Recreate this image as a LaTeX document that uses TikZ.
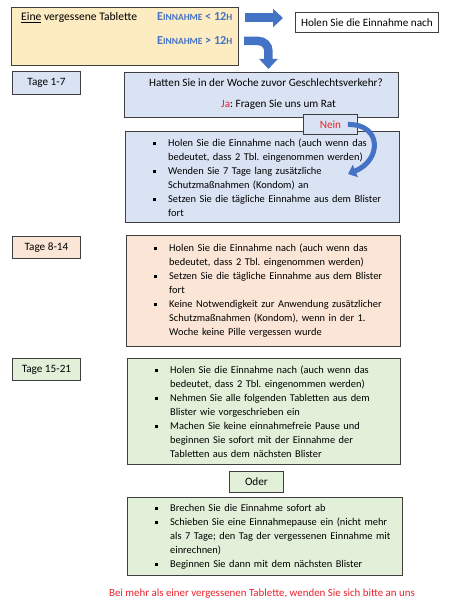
\documentclass[tikz,border=0pt]{standalone}
\usepackage{fontspec}
\setmainfont{Carlito}
\usetikzlibrary{arrows.meta}
\definecolor{ylw}{HTML}{FDEBC1}
\definecolor{bluefill}{HTML}{DAE3F3}
\definecolor{peach}{HTML}{FBE5D6}
\definecolor{greenfill}{HTML}{E2F0D9}
\definecolor{arrowblue}{HTML}{4472C4}
\definecolor{textblue}{HTML}{4472C4}
\definecolor{redtext}{HTML}{E8202A}
\definecolor{bordergray}{HTML}{3F3F3F}
\newcommand{\lstitem}[1]{\hangindent=15pt\hangafter=1\noindent\strut\makebox[15pt][l]{\rule[1.2pt]{3pt}{3pt}}#1\par}
\newcommand{\einn}{E{\fontsize{9.4}{9}\selectfont INNAHME}}
\begin{document}
\frenchspacing
\begin{tikzpicture}[x=1pt,y=-1pt,font=\fontsize{11.2}{14}\selectfont,
  box/.style={draw=bordergray,line width=0.9pt,inner sep=0pt,anchor=north west},
  plain/.style={inner sep=0pt},
  listtext/.style={inner sep=0pt,anchor=north west,text width=260pt,font=\fontsize{10.4}{14}\selectfont\frenchspacing},
  blockarrow/.style={draw=arrowblue,line width=9pt,-{Triangle[width=18pt,length=10pt]}},
  bluecaps/.style={inner sep=0pt,anchor=base west,text=textblue,font=\fontsize{12.2}{14}\selectfont\bfseries}]
\useasboundingbox (0,0) rectangle (450,604);

% top row
\node[box,fill=ylw,minimum width=227pt,minimum height=58pt] (top) at (11,7) {};
\node[plain,anchor=base west,font=\fontsize{11.6}{14}\selectfont] (eine) at (21,20.5) {\underline{Eine} vergessene Tablette};
\node[bluecaps] (lt) at (157,20.5) {\einn{} < 12{\fontsize{9.4}{9}\selectfont H}};
\node[bluecaps] (gt) at (157,44.5) {\einn{} > 12{\fontsize{9.4}{9}\selectfont H}};
\node[box,fill=white,minimum width=143pt,minimum height=20pt] (hol) at (295,12) {Holen Sie die Einnahme nach};

% Tage 1-7
\node[box,fill=bluefill,minimum width=68pt,minimum height=23pt] (t1) at (12,71) {Tage 1-7};
\node[box,fill=bluefill,minimum width=274pt,minimum height=45pt] (q) at (124,72) {};
\node[plain,anchor=base] (qt) at (266,86.5) {Hatten Sie in der Woche zuvor Geschlechtsverkehr?};
\node[plain,anchor=base west] (ja) at (221,107.5) {\textcolor{redtext}{Ja}: Fragen Sie uns um Rat};
\node[box,fill=bluefill,minimum width=274pt,minimum height=91pt] (b1) at (125,131) {};
\node[listtext] (b1t) at (153,136.5) {%
\lstitem{Holen Sie die Einnahme nach (auch wenn das\newline bedeutet, dass 2 Tbl. eingenommen werden)}
\lstitem{Wenden Sie 7 Tage lang zusätzliche\newline Schutzmaßnahmen (Kondom) an}
\lstitem{Setzen Sie die tägliche Einnahme aus dem Blister\newline fort}};
\node[box,fill=bluefill,minimum width=54pt,minimum height=20pt,text=redtext] (nein) at (303,114) {Nein};

% Tage 8-14
\node[box,fill=peach,minimum width=68pt,minimum height=22pt] (t2) at (12,236) {Tage 8-14};
\node[box,fill=peach,minimum width=274pt,minimum height=111pt] (b2) at (126,235) {};
\node[listtext] (b2t) at (154,241.5) {%
\lstitem{Holen Sie die Einnahme nach (auch wenn das\newline bedeutet, dass 2 Tbl. eingenommen werden)}
\lstitem{Setzen Sie die tägliche Einnahme aus dem Blister\newline fort}
\lstitem{Keine Notwendigkeit zur Anwendung zusätzlicher\newline Schutzmaßnahmen (Kondom), wenn in der 1.\newline Woche keine Pille vergessen wurde}};

% Tage 15-21
\node[box,fill=greenfill,minimum width=68pt,minimum height=22pt] (t3) at (12,358) {Tage 15-21};
\node[box,fill=greenfill,minimum width=273pt,minimum height=106pt] (b3) at (127,358) {};
\node[listtext] (b3t) at (155,363.5) {%
\lstitem{Holen Sie die Einnahme nach (auch wenn das\newline bedeutet, dass 2 Tbl. eingenommen werden)}
\lstitem{Nehmen Sie alle folgenden Tabletten aus dem\newline Blister wie vorgeschrieben ein}
\lstitem{Machen Sie keine einnahmefreie Pause und\newline beginnen Sie sofort mit der Einnahme der\newline Tabletten aus dem nächsten Blister}};

% Oder
\node[box,fill=greenfill,minimum width=54pt,minimum height=21pt] (oder) at (229,471) {Oder};
\node[box,fill=greenfill,minimum width=275pt,minimum height=78pt] (b4) at (127,497) {};
\node[listtext] (b4t) at (155,501.5) {%
\lstitem{Brechen Sie die Einnahme sofort ab}
\lstitem{Schieben Sie eine Einnahmepause ein (nicht mehr\newline als 7 Tage; den Tag der vergessenen Einnahme mit\newline einrechnen)}
\lstitem{Beginnen Sie dann mit dem nächsten Blister}};

% footer
\node[plain,anchor=base,text=redtext,font=\fontsize{10.9}{14}\selectfont] (foot) at (262,596.5) {Bei mehr als einer vergessenen Tablette, wenden Sie sich bitte an uns};

% arrows
\coordinate (r1) at (245,18);
\draw[blockarrow,shorten >=12pt] (r1) -- (r1 -| hol.west);
\coordinate (r2) at (244,41);
\draw[blockarrow,line width=8.5pt,rounded corners=10pt,shorten >=3pt] (r2) -| ([xshift=7pt]q.north);
\coordinate (neinend) at (348,174);
\draw[draw=arrowblue,line width=5pt,-{Triangle[width=13pt,length=8pt]}]
  ([xshift=-10pt]nein.east) .. controls (382,124) and (382,160) .. (neinend);
\end{tikzpicture}
\end{document}
